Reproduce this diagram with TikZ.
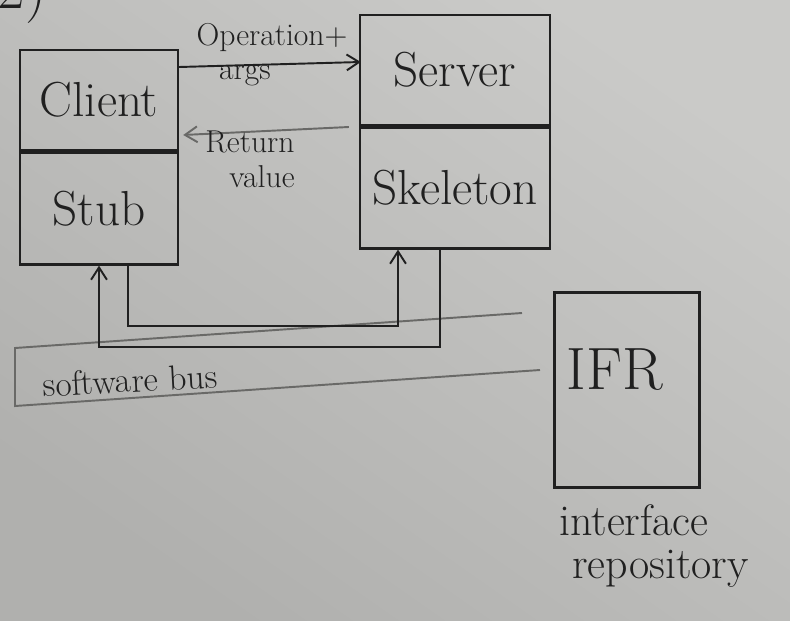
\documentclass[tikz,border=0pt]{standalone}
\usepackage{fontspec}
\usetikzlibrary{calc,arrows.meta}

\definecolor{ink}{RGB}{32,32,32}
\definecolor{chalk}{RGB}{105,105,103}
\definecolor{boardlight}{RGB}{202,202,200}
\definecolor{boarddark}{RGB}{176,176,174}

\newcommand\bighand{\fontsize{28}{30}\selectfont}
\newcommand\notehand{\fontsize{18}{20}\selectfont}
\newcommand\ifrhand{\fontsize{34}{36}\selectfont}
\newcommand\repohand{\fontsize{25}{27}\selectfont}

\begin{document}
\begin{tikzpicture}[x=0.02cm,y=0.02cm,
  part/.style={draw=ink,line width=1.4pt,inner sep=0pt,text=ink,font=\bighand},
  note/.style={text=ink,font=\notehand,inner sep=1pt},
  bus/.style={draw=chalk,line width=1.1pt},
  link/.style={draw=ink,line width=1.1pt,-{Straight Barb[length=7pt,width=9pt]}}]

\useasboundingbox (0,0) rectangle (790,620);
\shade[top color=boardlight,bottom color=boarddark,shading angle=-35] (0,0) rectangle (790,620);

\node[text=ink,font=\fontsize{34}{36}\selectfont] (num) at (22,626) {2)};

% client side
\node[part,minimum width=3.16cm,minimum height=2cm] (client) at (99,520) {Client};
\node[part,minimum width=3.16cm,minimum height=2.24cm,anchor=north] (stub) at (client.south) {Stub};

% server side
\node[part,minimum width=3.8cm,minimum height=2.2cm] (server) at (455,550) {Server};
\node[part,minimum width=3.8cm,minimum height=2.42cm,anchor=north] (skeleton) at (server.south) {Skeleton};

% interface repository
\node[part,minimum width=2.9cm,minimum height=3.9cm] (ifr) at (627,230) {};
\node[text=ink,font=\ifrhand] (ifrname) at ($(ifr.center)+(-12,20)$) {IFR};
\node[text=ink,font=\repohand,anchor=north west] (intf) at (553,122) {interface};
\node[text=ink,font=\repohand,anchor=north west] (repo) at (566,76) {repository};

% call and reply
\draw[link] ($(client.east)+(0,33)$) -- ($(server.west)+(2,8)$);
\node[note] (op) at (272,582) {Operation+};
\node[note] (args) at (245,544) {args};
\draw[link,draw=chalk] ($(server.west)+(-10,-57)$) -- ($(client.east)+(4,-35)$);
\node[note] (ret) at (250,478) {Return};
\node[note] (val) at (262,443) {value};

% software bus
\coordinate (bus top) at (522,307);
\coordinate (bus bottom) at (540,250);
\draw[bus] (bus top) -- (15,272) -- (15,214) -- (bus bottom);
\node[note,font=\fontsize{20}{22}\selectfont,rotate=3] (busname) at (130,240) {software bus};

\draw[link] ($(skeleton.south)+(-15,0)$) -- ++(0,-97) -| (stub.south);
\draw[link] ($(stub.south)+(29,0)$) -- ++(0,-60) -| ($(skeleton.south)+(-57,0)$);

\end{tikzpicture}
\end{document}
